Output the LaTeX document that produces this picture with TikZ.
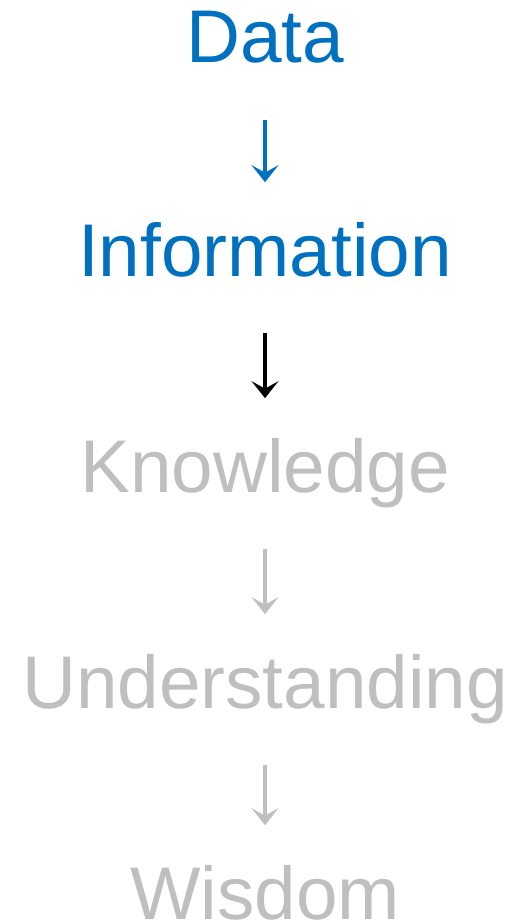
\documentclass[tikz,border=0pt]{standalone}
\usepackage{fontspec}
\setmainfont{Liberation Sans}
\usetikzlibrary{arrows.meta}
\definecolor{dikwblue}{HTML}{0070C0}
\definecolor{dikwgray}{HTML}{BFBFBF}

\begin{document}
\begin{tikzpicture}[
  word/.style={anchor=base, inner sep=0pt, text height=1.07cm, text depth=0.33cm,
    font=\fontsize{42.5}{50}\selectfont},
  flow/.style={-{Stealth[length=0.34cm,width=0.54cm,inset=0.15cm]}, line width=0.08cm,
    shorten <=0.8cm, shorten >=0.8cm}]
  \useasboundingbox (0,0) rectangle (10.32,-18.48);
  \node[word, text=dikwblue] (dat) at (5.3,-1.26) {Data};
  \node[word, text=dikwblue] (inf) at (5.3,-5.52) {Information};
  \node[word, text=dikwgray] (kno) at (5.3,-9.84) {Knowledge};
  \node[word, text=dikwgray] (und) at (5.3,-14.16) {Understanding};
  \node[word, text=dikwgray, text depth=0pt] (wis) at (5.3,-18.38) {Wisdom};
  \draw[flow, dikwblue] (dat) -- (inf);
  \draw[flow, black] (inf) -- (kno);
  \draw[flow, dikwgray] (kno) -- (und);
  \draw[flow, dikwgray] (und) -- (wis);
\end{tikzpicture}
\end{document}
